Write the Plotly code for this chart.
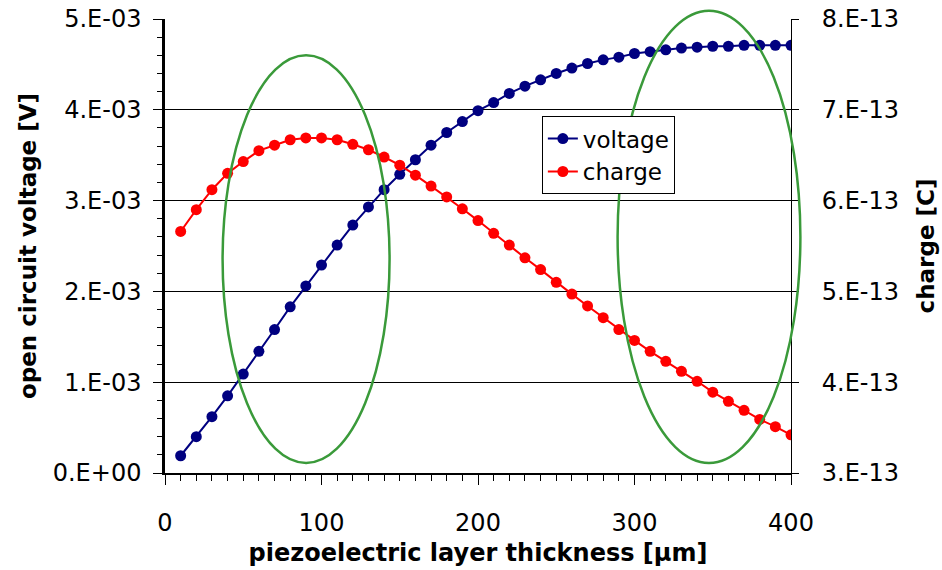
import plotly.graph_objects as go

thickness = [10, 20, 30, 40, 50, 60, 70, 80, 90, 100,
             110, 120, 130, 140, 150, 160, 170, 180, 190, 200,
             210, 220, 230, 240, 250, 260, 270, 280, 290, 300,
             310, 320, 330, 340, 350, 360, 370, 380, 390, 400]

voltage_mV = [0.19, 0.40, 0.62, 0.85, 1.09, 1.34, 1.58, 1.83, 2.06, 2.29,
              2.51, 2.73, 2.93, 3.12, 3.29, 3.45, 3.61, 3.75, 3.87, 3.99,
              4.08, 4.18, 4.26, 4.33, 4.40, 4.46, 4.51, 4.55, 4.58, 4.62,
              4.64, 4.66, 4.68, 4.69, 4.70, 4.70, 4.71, 4.71, 4.71, 4.71]
voltage = [v * 1e-3 for v in voltage_mV]

charge_e13 = [5.66, 5.90, 6.12, 6.30, 6.43, 6.55, 6.61, 6.67, 6.69, 6.69,
              6.67, 6.62, 6.56, 6.48, 6.39, 6.28, 6.16, 6.04, 5.91, 5.78,
              5.64, 5.51, 5.37, 5.24, 5.10, 4.97, 4.84, 4.71, 4.58, 4.46,
              4.34, 4.23, 4.12, 4.01, 3.89, 3.79, 3.69, 3.59, 3.51, 3.42]
charge = [c * 1e-13 for c in charge_e13]

x_ticks = [0, 100, 200, 300, 400]
y1_ticks = [0, 1e-3, 2e-3, 3e-3, 4e-3, 5e-3]
y1_labels = ["0.E+00", "1.E-03", "2.E-03", "3.E-03", "4.E-03", "5.E-03"]
y2_ticks = [3e-13, 4e-13, 5e-13, 6e-13, 7e-13, 8e-13]
y2_labels = ["3.E-13", "4.E-13", "5.E-13", "6.E-13", "7.E-13", "8.E-13"]

X_RANGE = [0, 400]
Y1_RANGE = [0, 5e-3]
Y2_RANGE = [3e-13, 8e-13]

# highlighted regions (data coordinates: x0, x1, y0, y1 on voltage axis)
ellipses = [(36.8, 143.5, 0.11e-3, 4.60e-3),
            (289.2, 406.0, 0.11e-3, 5.09e-3)]

FONT = "DejaVu Sans"

fig = go.Figure()
fig.add_trace(go.Scatter(
    x=thickness, y=voltage, name="voltage", mode="lines+markers",
    line=dict(color="#000080", width=2),
    marker=dict(color="#000080", size=11, symbol="circle"),
    yaxis="y"))
fig.add_trace(go.Scatter(
    x=thickness, y=charge, name="charge", mode="lines+markers",
    line=dict(color="#ff0000", width=2),
    marker=dict(color="#ff0000", size=11, symbol="circle"),
    yaxis="y2"))

def px(v, rng):
    return (v - rng[0]) / (rng[1] - rng[0])

for (a, b, c, d) in ellipses:
    fig.add_shape(type="circle", xref="paper", yref="paper",
                  x0=px(a, X_RANGE), x1=px(b, X_RANGE),
                  y0=px(c, Y1_RANGE), y1=px(d, Y1_RANGE),
                  line=dict(color="#3a9a3a", width=2.5), layer="above")

fig.update_layout(
    width=942, height=570,
    margin=dict(l=165, r=151, t=19, b=97, autoexpand=False),
    paper_bgcolor="white", plot_bgcolor="white",
    font=dict(family=FONT, size=24, color="black"),
    showlegend=True,
    legend=dict(x=0.602, y=0.786, xanchor="left", yanchor="top",
                bgcolor="white", bordercolor="black", borderwidth=1,
                font=dict(family=FONT, size=23, color="black"),
                tracegroupgap=0, itemwidth=30),
    xaxis=dict(range=X_RANGE, tickvals=x_ticks, ticktext=[str(t) for t in x_ticks],
               showgrid=False, zeroline=False, automargin=False,
               showline=True, linecolor="black", linewidth=2,
               ticks="outside", ticklen=10, tickwidth=1, tickcolor="black",
               minor=dict(dtick=10, ticks="outside", ticklen=6, tickwidth=1, tickcolor="black"),
               ticklabelstandoff=17,
               tickfont=dict(family=FONT, size=24),
               title=dict(text="<b>piezoelectric layer thickness [µm]</b>",
                          font=dict(family=FONT, size=24), standoff=8)),
    yaxis=dict(range=Y1_RANGE, tickvals=y1_ticks, ticktext=y1_labels,
               showgrid=True, gridcolor="black", gridwidth=1, automargin=False,
               zeroline=False, showline=True, linecolor="black", linewidth=2.5,
               ticks="outside", ticklen=9, tickwidth=1, tickcolor="black",
               minor=dict(dtick=2e-4, ticks="outside", ticklen=5, tickwidth=1,
                          tickcolor="black", showgrid=False),
               ticklabelstandoff=7,
               tickfont=dict(family=FONT, size=24),
               title=dict(text="<b>open circuit voltage [V]</b>",
                          font=dict(family=FONT, size=23), standoff=10)),
    yaxis2=dict(range=Y2_RANGE, tickvals=y2_ticks, ticktext=y2_labels,
                overlaying="y", side="right", showgrid=False, zeroline=False,
                automargin=False,
                showline=True, linecolor="black", linewidth=1,
                ticks="outside", ticklen=7, tickwidth=1, tickcolor="black",
                ticklabelstandoff=18,
                tickfont=dict(family=FONT, size=24),
                title=dict(text="<b>charge [C]</b>",
                           font=dict(family=FONT, size=23), standoff=19)),
)

fig.write_html("out.html")
